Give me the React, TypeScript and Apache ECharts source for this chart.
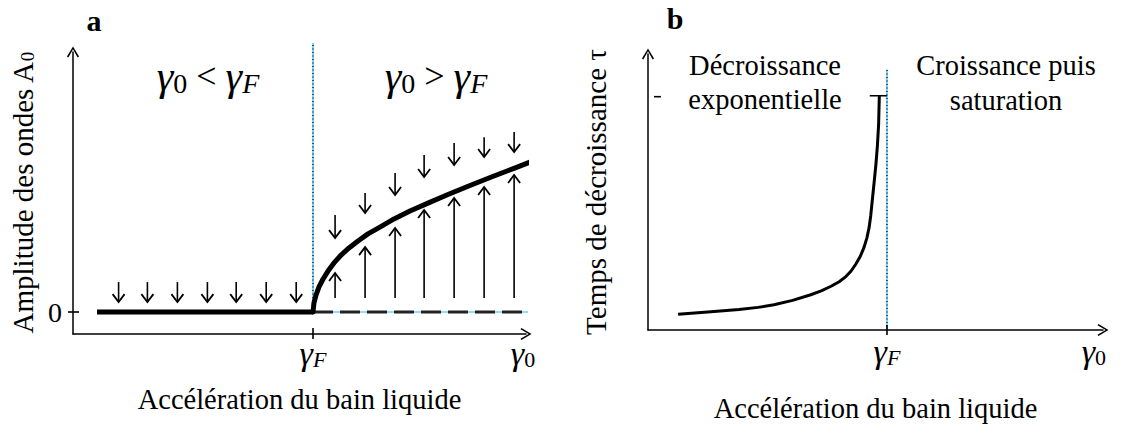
import React, { useEffect, useRef } from 'react';
import * as echarts from 'echarts';

const SERIF = 'Liberation Serif';

// ---------- Panel a : amplitude A0 vs gamma0 ----------
const GAMMA_F = 10;
const stableZeroX = [1.0, 10];
const branchX = [10, 10.04, 10.125, 10.25, 10.42, 10.625, 10.875, 11.17, 11.5, 11.875, 12.29, 12.79, 13.375, 14.04, 14.79, 15.625, 16.54, 17.46, 18.375, 19.25];
const branchA = [0, 0.41, 0.77, 1.14, 1.5, 1.86, 2.23, 2.59, 2.91, 3.23, 3.55, 3.86, 4.23, 4.59, 4.95, 5.34, 5.75, 6.15, 6.53, 6.9];
const unstableZeroX = [10, 19.25];
const leftArrowX = [1.9, 3.1, 4.35, 5.6, 6.8, 8.05, 9.3];
const leftArrowTail = [1.36, 1.36, 1.36, 1.36, 1.36, 1.36, 1.36];
const leftArrowTip = [0.45, 0.45, 0.45, 0.45, 0.45, 0.45, 0.45];
const upArrowX = [10.92, 12.17, 13.42, 14.63, 15.88, 17.13, 18.38];
const upArrowBase = [0.64, 0.64, 0.64, 0.64, 0.64, 0.64, 0.64];
const upArrowTip = [1.77, 2.95, 3.82, 4.64, 5.18, 5.68, 6.23];
const downArrowTail = [4.41, 5.41, 6.32, 7.14, 7.68, 7.95, 8.18];
const downArrowTip = [3.36, 4.5, 5.32, 6.14, 6.68, 7.05, 7.27];
const aGuideTop = 12.23;
const aXLabelValues = [GAMMA_F, 18.75];
const aYLabelValues = [0];

// ---------- Panel b : decay time tau vs gamma0 ----------
const tauX = [1.26, 2.5, 3.81, 4.6, 5.27, 6.05, 6.78, 7.25, 7.66, 8.0, 8.28, 8.5, 8.7, 8.88, 9.04, 9.16, 9.25, 9.32, 9.38, 9.46, 9.54, 9.6, 9.65, 9.68];
const tauY = [0.67, 0.77, 0.875, 0.97, 1.08, 1.27, 1.5, 1.68, 1.875, 2.07, 2.29, 2.53, 2.83, 3.15, 3.54, 3.95, 4.375, 4.9, 5.5, 6.3, 7.125, 7.9, 8.8, 10.04];
const capX = [9.28, 10];
const capY = [10.04, 10.04];
const bGuideTop = 11.17;
const bXLabelValues = [GAMMA_F, 18.66];
const bYTick = [0.25, 0.54, 10.0];

const CHEVRON = 'path://M6,0 L12,10 L10.6,10.9 L6,2.8 L1.4,10.9 L0,10 Z';
const CYAN = '#2DB8EA';

function segSeries(xi: number, yi: number, data: number[][]) {
  return {
    type: 'custom',
    xAxisIndex: xi,
    yAxisIndex: yi,
    clip: false,
    silent: true,
    z: 5,
    data,
    renderItem: (_p: any, api: any) => {
      const a = api.coord([api.value(0), api.value(1)]);
      const b = api.coord([api.value(2), api.value(3)]);
      const head = api.value(4);
      const dx = b[0] - a[0];
      const dy = b[1] - a[1];
      const len = Math.hypot(dx, dy) || 1;
      const ux = dx / len;
      const uy = dy / len;
      const children: any[] = [
        { type: 'line', shape: { x1: a[0], y1: a[1], x2: b[0], y2: b[1] }, style: { stroke: '#000', lineWidth: 1.6 } },
      ];
      if (head) {
        const hl = 8;
        const hw = 6;
        children.push({
          type: 'polyline',
          shape: {
            points: [
              [b[0] - ux * hl - uy * hw, b[1] - uy * hl + ux * hw],
              [b[0], b[1]],
              [b[0] - ux * hl + uy * hw, b[1] - uy * hl - ux * hw],
            ],
          },
          style: { stroke: '#000', fill: null, lineWidth: 1.8 },
        });
      }
      return { type: 'group', children };
    },
  };
}

function lineSeries(xi: number, yi: number, data: number[][], style: any, extra: any = {}) {
  return {
    type: 'line',
    xAxisIndex: xi,
    yAxisIndex: yi,
    data,
    showSymbol: false,
    symbol: 'none',
    clip: false,
    silent: true,
    lineStyle: style,
    ...extra,
  };
}

const richText = {
  g: { fontFamily: SERIF, fontStyle: 'italic', fontSize: 34, color: '#000' },
  sF: { fontFamily: SERIF, fontStyle: 'italic', fontSize: 22, color: '#000', verticalAlign: 'bottom' },
  s0: { fontFamily: SERIF, fontSize: 22, color: '#000', verticalAlign: 'bottom' },
};

const gammaFmt = (v: number) => (v === GAMMA_F ? '{g|γ}{sF|F}' : '{g|γ}{s0|0}');

function axisLineCfg() {
  return {
    show: true,
    onZero: false,
    symbol: ['none', CHEVRON],
    symbolSize: [13, 11],
    lineStyle: { color: '#000', width: 1.5 },
  };
}

const nameStyle = {
  fontFamily: SERIF,
  fontSize: 28,
  color: '#000',
  rich: {
    t: { fontFamily: SERIF, fontSize: 29, color: '#000' },
    s: { fontFamily: SERIF, fontSize: 19, color: '#000', verticalAlign: 'bottom' },
  },
};

const regionRich = {
  g: { fontFamily: SERIF, fontStyle: 'italic', fontSize: 42, fill: '#000' },
  s0: { fontFamily: SERIF, fontSize: 28, fill: '#000', verticalAlign: 'bottom' },
  sF: { fontFamily: SERIF, fontStyle: 'italic', fontSize: 28, fill: '#000', verticalAlign: 'bottom' },
  op: { fontFamily: SERIF, fontSize: 36, fill: '#000' },
};

export default function App() {
  const ref = useRef<HTMLDivElement>(null);
  useEffect(() => {
    if (!ref.current) return;
    const chart = echarts.init(ref.current, null, { renderer: 'svg' });
    const toPts = (xs: number[], ys: number[]) => xs.map((x, i) => [x, ys[i]]);

    const aSegs: number[][] = [
      ...leftArrowX.map((x, i) => [x, leftArrowTail[i], x, leftArrowTip[i], 1]),
      ...upArrowX.map((x, i) => [x, upArrowBase[i], x, upArrowTip[i], 1]),
      ...upArrowX.map((x, i) => [x, downArrowTail[i], x, downArrowTip[i], 1]),
      [GAMMA_F, -1.23, GAMMA_F, -0.73, 0],
      [-0.21, 0, 0.25, 0, 0],
    ];
    const bSegs: number[][] = [
      [GAMMA_F, -0.21, GAMMA_F, 0.21, 0],
      [bYTick[0], bYTick[2], bYTick[1], bYTick[2], 0],
    ];

    chart.setOption({
      animation: false,
      backgroundColor: '#fff',
      grid: [
        { left: 73, top: 52, width: 453, height: 282 },
        { left: 648, top: 54, width: 455, height: 284 },
      ],
      xAxis: [
        {
          type: 'value', gridIndex: 0, min: 0, max: 18.875,
          axisLine: axisLineCfg(), axisTick: { show: false }, splitLine: { show: false },
          axisLabel: { customValues: aXLabelValues, formatter: gammaFmt, rich: richText, margin: 2 },
          name: 'Accélération du bain liquide', nameLocation: 'middle', nameGap: 51,
          nameTextStyle: { ...nameStyle, fontSize: 28.5 },
        },
        {
          type: 'value', gridIndex: 1, min: 0, max: 19.04,
          axisLine: axisLineCfg(), axisTick: { show: false }, splitLine: { show: false },
          axisLabel: { customValues: bXLabelValues, formatter: gammaFmt, rich: richText, margin: 4 },
          name: 'Accélération du bain liquide', nameLocation: 'middle', nameGap: 64,
          nameTextStyle: { ...nameStyle, fontSize: 28.5 },
        },
      ],
      yAxis: [
        {
          type: 'value', gridIndex: 0, min: -1, max: 11.82,
          axisLine: axisLineCfg(), axisTick: { show: false }, splitLine: { show: false },
          axisLabel: { customValues: aYLabelValues, fontFamily: SERIF, fontSize: 28, color: '#000', margin: 11 },
          name: '{t|Amplitude des ondes A}{s|0}', nameLocation: 'middle', nameGap: 36,
          nameTextStyle: nameStyle,
        },
        {
          type: 'value', gridIndex: 1, min: 0, max: 11.83,
          axisLine: axisLineCfg(), axisTick: { show: false }, splitLine: { show: false },
          axisLabel: { show: false },
          name: 'Temps de décroissance τ', nameLocation: 'middle', nameGap: 38,
          nameTextStyle: { ...nameStyle, fontSize: 29 },
        },
      ],
      series: [
        // panel a
        lineSeries(0, 0, [[GAMMA_F, 0], [GAMMA_F, aGuideTop]], { color: CYAN, width: 1.2 }),
        lineSeries(0, 0, [[GAMMA_F, 0], [GAMMA_F, aGuideTop]], { color: '#000', width: 1.2, type: [1, 2.5] }),
        lineSeries(0, 0, toPts(unstableZeroX, [0, 0]), { color: CYAN, width: 1.2 }),
        lineSeries(0, 0, toPts(unstableZeroX, [0, 0]), { color: '#222', width: 3, type: [20, 7] }),
        lineSeries(0, 0, toPts(stableZeroX, [0, 0]), { color: '#000', width: 5 }),
        lineSeries(0, 0, toPts(branchX, branchA), { color: '#000', width: 5, cap: 'round', join: 'round' }),
        segSeries(0, 0, aSegs),
        // panel b
        lineSeries(1, 1, [[GAMMA_F, 0], [GAMMA_F, bGuideTop]], { color: CYAN, width: 1.2 }),
        lineSeries(1, 1, [[GAMMA_F, 0], [GAMMA_F, bGuideTop]], { color: '#000', width: 1.2, type: [1, 2.5] }),
        lineSeries(1, 1, toPts(tauX, tauY), { color: '#000', width: 3, join: 'round' }),
        lineSeries(1, 1, toPts(capX, capY), { color: '#000', width: 1.5 }),
        segSeries(1, 1, bSegs),
      ],
      graphic: [
        { type: 'text', x: 94, y: 20, style: { text: 'a', fontFamily: SERIF, fontWeight: 'bold', fontSize: 30, fill: '#000', align: 'center', verticalAlign: 'middle' } },
        { type: 'text', x: 675, y: 18, style: { text: 'b', fontFamily: SERIF, fontWeight: 'bold', fontSize: 30, fill: '#000', align: 'center', verticalAlign: 'middle' } },
        {
          type: 'text', x: 208, y: 76,
          style: { text: '{g|γ}{s0|0}{op| < }{g|γ}{sF|F}', align: 'center', verticalAlign: 'middle', rich: regionRich },
        },
        {
          type: 'text', x: 436, y: 76,
          style: { text: '{g|γ}{s0|0}{op| > }{g|γ}{sF|F}', align: 'center', verticalAlign: 'middle', rich: regionRich },
        },
        {
          type: 'text', x: 765, y: 82,
          style: { text: 'Décroissance\nexponentielle', fontFamily: SERIF, fontSize: 28.5, lineHeight: 34, fill: '#000', align: 'center', verticalAlign: 'middle' },
        },
        {
          type: 'text', x: 1006, y: 83,
          style: { text: 'Croissance puis\nsaturation', fontFamily: SERIF, fontSize: 28.5, lineHeight: 35, fill: '#000', align: 'center', verticalAlign: 'middle' },
        },
      ],
    });
    return () => chart.dispose();
  }, []);
  return <div ref={ref} style={{ position: 'absolute', left: 0, top: 0, width: 1121, height: 428 }} />;
}
